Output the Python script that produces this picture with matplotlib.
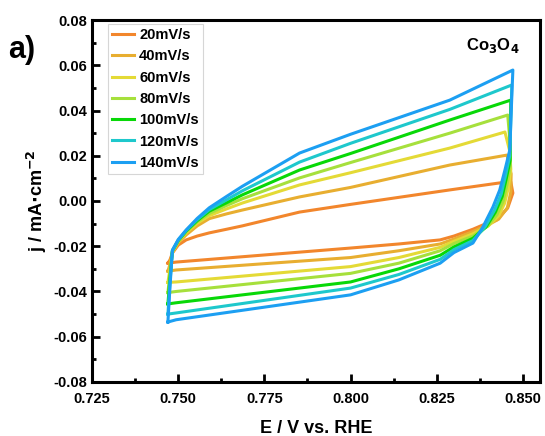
import matplotlib
matplotlib.use("Agg")
import matplotlib.pyplot as plt
from matplotlib.ticker import MultipleLocator, FormatStrFormatter

plt.rcParams['font.family'] = ['Liberation Sans', 'DejaVu Sans']
plt.rcParams['font.weight'] = 'bold'

labels = ["20mV/s", "40mV/s", "60mV/s", "80mV/s", "100mV/s", "120mV/s", "140mV/s"]
colors = ["#F2862C", "#E8AE30", "#E4DA36", "#A6E03C", "#08D808", "#1EC8CC", "#1C9FF2"]

# anodic (upper) branch, read at these potentials
E_up = [0.7470, 0.7476, 0.7483, 0.7500, 0.7523, 0.7555, 0.7590, 0.7640, 0.7686, 0.7852, 0.8000, 0.8288]
j_up = [
    [-0.0275, -0.0260, -0.0230, -0.0195, -0.0172, -0.0155, -0.0141, -0.0125, -0.0110, -0.0049, -0.0015, 0.0049],
    [-0.0310, -0.0280, -0.0228, -0.0185, -0.0150, -0.0110, -0.0078, -0.0057, -0.0040, 0.0018, 0.0060, 0.0159],
    [-0.0360, -0.0300, -0.0225, -0.0180, -0.0140, -0.0098, -0.0065, -0.0035, -0.0009, 0.0071, 0.0125, 0.0234],
    [-0.0405, -0.0320, -0.0222, -0.0177, -0.0135, -0.0092, -0.0055, -0.0020, 0.0010, 0.0102, 0.0170, 0.0300],
    [-0.0455, -0.0340, -0.0220, -0.0175, -0.0133, -0.0087, -0.0045, -0.0008, 0.0027, 0.0137, 0.0210, 0.0358],
    [-0.0500, -0.0360, -0.0220, -0.0173, -0.0130, -0.0082, -0.0038, 0.0005, 0.0045, 0.0172, 0.0255, 0.0405],
    [-0.0535, -0.0380, -0.0217, -0.0170, -0.0128, -0.0077, -0.0030, 0.0020, 0.0065, 0.0212, 0.0295, 0.0446],
]

# turning point at the positive end, then the drop back to the cathodic branch
E_turn = [
    [0.8433, 0.8465, 0.8471, 0.8456, 0.8424, 0.8384, 0.8355],
    [0.8454, 0.8466, 0.8465, 0.8455, 0.8430, 0.8400, 0.8355],
    [0.8448, 0.8462, 0.8465, 0.8458, 0.8447, 0.8430, 0.8400, 0.8355],
    [0.8456, 0.8464, 0.8464, 0.8455, 0.8443, 0.8425, 0.8397, 0.8355],
    [0.8465, 0.8463, 0.8463, 0.8452, 0.8440, 0.8420, 0.8393, 0.8355],
    [0.8468, 0.8464, 0.8462, 0.8450, 0.8437, 0.8418, 0.8390, 0.8355],
    [0.8471, 0.8465, 0.8462, 0.8448, 0.8433, 0.8413, 0.8384, 0.8355],
]
j_turn = [
    [0.0080, 0.0085, 0.0035, -0.0031, -0.0084, -0.0106, -0.0125],
    [0.0203, 0.0120, 0.0040, -0.0030, -0.0080, -0.0105, -0.0135],
    [0.0305, 0.0220, 0.0140, 0.0060, -0.0010, -0.0065, -0.0110, -0.0145],
    [0.0380, 0.0240, 0.0160, 0.0080, 0.0000, -0.0060, -0.0112, -0.0155],
    [0.0446, 0.0280, 0.0180, 0.0100, 0.0020, -0.0050, -0.0115, -0.0165],
    [0.0513, 0.0300, 0.0200, 0.0115, 0.0030, -0.0040, -0.0115, -0.0175],
    [0.0579, 0.0350, 0.0225, 0.0137, 0.0049, -0.0027, -0.0115, -0.0186],
]

# cathodic (lower) branch, going back to the negative end
E_down = [0.8300, 0.8260, 0.8140, 0.8000, 0.7494, 0.7470]
j_down = [
    [-0.0155, -0.0172, -0.0190, -0.0208, -0.0270, -0.0275],
    [-0.0168, -0.0190, -0.0220, -0.0250, -0.0305, -0.0310],
    [-0.0178, -0.0205, -0.0250, -0.0290, -0.0358, -0.0360],
    [-0.0188, -0.0220, -0.0275, -0.0320, -0.0400, -0.0405],
    [-0.0203, -0.0240, -0.0300, -0.0358, -0.0450, -0.0455],
    [-0.0215, -0.0258, -0.0325, -0.0385, -0.0495, -0.0500],
    [-0.0228, -0.0275, -0.0349, -0.0415, -0.0525, -0.0535],
]

fig = plt.figure(figsize=(5.45, 4.36), dpi=100)
ax = fig.add_axes([0.169, 0.124, 0.822, 0.830])

for i in range(len(labels)):
    E = E_up + E_turn[i] + E_down
    j = j_up[i] + j_turn[i] + j_down[i]
    ax.plot(E, j, color=colors[i], lw=2.2, label=labels[i])

ax.set_xlim(0.725, 0.855)
ax.set_ylim(-0.08, 0.08)
ax.xaxis.set_major_locator(MultipleLocator(0.025))
ax.xaxis.set_minor_locator(MultipleLocator(0.0125))
ax.yaxis.set_major_locator(MultipleLocator(0.02))
ax.yaxis.set_minor_locator(MultipleLocator(0.01))
ax.xaxis.set_major_formatter(FormatStrFormatter('%.3f'))
ax.yaxis.set_major_formatter(FormatStrFormatter('%.2f'))
ax.tick_params(which='both', direction='in', top=False, right=False, width=2, labelsize=10.5)
ax.tick_params(which='major', length=6)
ax.tick_params(which='minor', length=3)
ax.tick_params(axis='x', pad=7)
for s in ax.spines.values():
    s.set_linewidth(2.2)

ax.set_xlabel("E / V vs. RHE", fontsize=13, fontweight='bold', labelpad=10)
ax.set_ylabel(r"j / mA$\cdot$cm$^{\mathbf{-2}}$", fontsize=13, fontweight='bold', labelpad=3)

ax.text(0.895, 0.93, r"Co$_\mathbf{3}$O$_\mathbf{4}$", transform=ax.transAxes,
        fontsize=12, fontweight='bold', ha='center', va='center')
fig.text(0.015, 0.885, "a)", fontsize=22, fontweight='bold', ha='left', va='center')

leg = ax.legend(loc='upper left', bbox_to_anchor=(0.035, 0.99), borderaxespad=0,
                prop={'weight': 'bold', 'size': 10.5}, handlelength=1.5, handletextpad=0.35,
                labelspacing=0.5, fancybox=False, edgecolor='#cccccc', borderpad=0.3)
leg.get_frame().set_linewidth(0.8)

fig.savefig("out.png", dpi=100)
